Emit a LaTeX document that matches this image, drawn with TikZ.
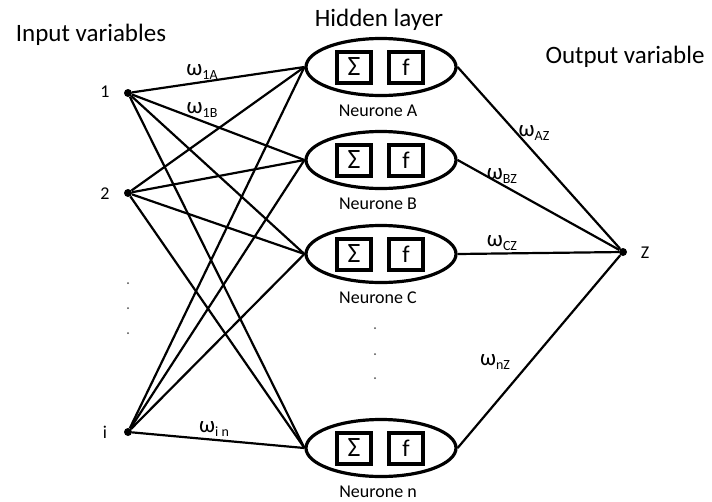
\documentclass[tikz,border=0pt]{standalone}
\usepackage{fontspec}
\setmainfont{Carlito}
\usetikzlibrary{shapes.geometric,calc}
\newcommand\wsub[1]{ω\raisebox{-4.5pt}{\fontsize{14}{14}\selectfont #1}}
\begin{document}
\begin{tikzpicture}[x=1pt,y=-1pt,
  neuron/.style={ellipse,draw,line width=3.2pt,minimum width=150pt,minimum height=57pt,inner sep=0pt},
  opbox/.style={draw,line width=4pt,minimum width=34pt,minimum height=31pt,inner sep=0pt},
  inp/.style={circle,fill,inner sep=0pt,minimum size=8pt},
  conn/.style={line width=2.2pt},
  lbl/.style={font=\fontsize{18}{18}\selectfont,inner sep=0pt},
  ttl/.style={font=\fontsize{25}{25}\selectfont,inner sep=0pt},
  wl/.style={font=\fontsize{23}{23}\selectfont,inner sep=0pt},
  dotp/.style={circle,fill=black!70,inner sep=0pt,minimum size=2pt}]
\useasboundingbox (0,0) rectangle (712,501);
% titles
\node[ttl] (tin) at (91,35) {Input variables};
\node[ttl] (thid) at (379,20) {Hidden layer};
\node[ttl] (tout) at (625,57) {Output variable};
% neurons
\foreach \n/\y/\lab in {A/67/A,B/160/B,C/254/C,N/448/n}{
  \node[neuron] (\n) at (381,\y) {};
  \node[opbox,font=\fontsize{28}{28}\selectfont] (s\n) at ($(\n)+(-27,0)$) {Σ};
  \node[opbox,font=\fontsize{24}{24}\selectfont] (f\n) at ($(\n)+(25,0)$) {f};
  \node[lbl] (l\n) at ($(\n)+(-3,44)$) {Neurone \lab};
}
% inputs
\node[inp] (n1) at (128,93) {};
\node[inp] (n2) at (128,193) {};
\node[inp] (ni) at (128,432) {};
\node[lbl] (t1) at (105,92) {1};
\node[lbl] (t2) at (105,194) {2};
\node[lbl] (ti) at (105,432) {i};
\node[dotp] (d1) at (128,283) {};
\node[dotp] (d2) at (128,308) {};
\node[dotp] (d3) at (128,333) {};
\node[dotp] (e1) at (375,328) {};
\node[dotp] (e2) at (375,354) {};
\node[dotp] (e3) at (375,378) {};
% output
\node[inp] (Z) at (623,252) {};
\node[lbl] (tz) at (645,253) {Z};
% connectors
\foreach \s in {n1,n2,ni}
  \foreach \t in {A,B,C,N}
    \draw[conn] (\s) -- (\t.west);
\foreach \t in {A,B,C,N}
  \draw[conn] (\t.east) -- (Z);
% weights
\node[wl] (w1a) at (202,72) {\wsub{1A}};
\node[wl] (w1b) at (202,110) {\wsub{1B}};
\node[wl] (win) at (214,429) {\wsub{i n}};
\node[wl] (waz) at (534,133) {\wsub{AZ}};
\node[wl] (wbz) at (502,176) {\wsub{BZ}};
\node[wl] (wcz) at (502,243) {\wsub{CZ}};
\node[wl] (wnz) at (495,362) {\wsub{nZ}};
\end{tikzpicture}
\end{document}
